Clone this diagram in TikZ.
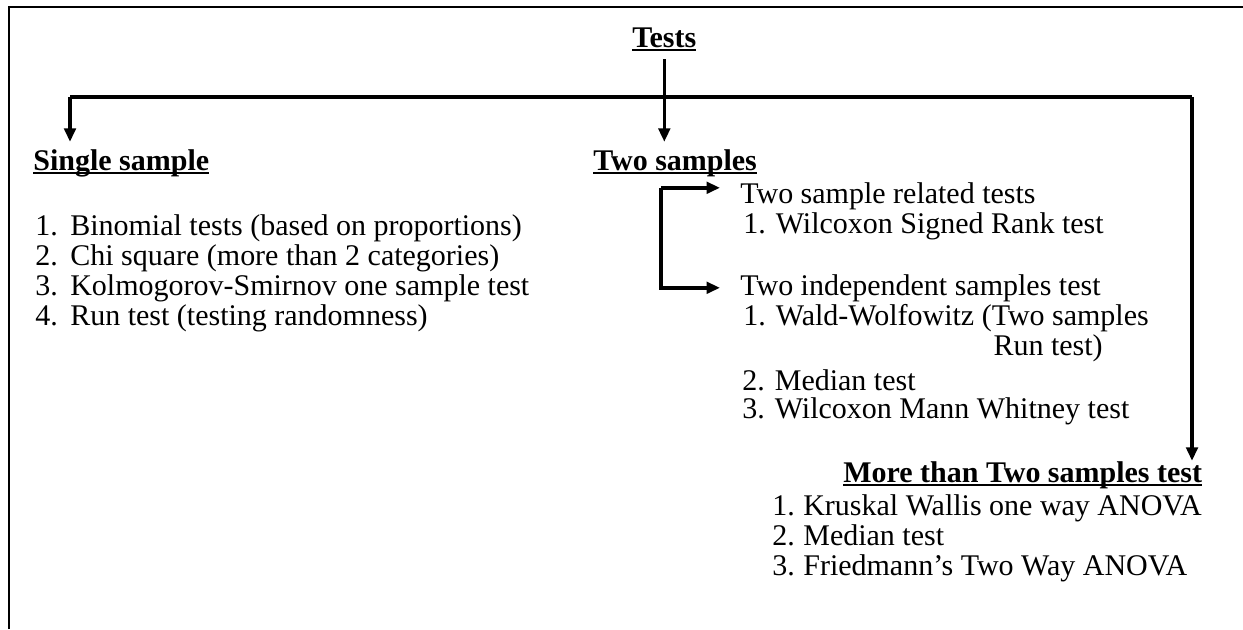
\documentclass[tikz,border=0pt]{standalone}
\usepackage{fontspec}
\setmainfont{Liberation Serif}
\usepackage{tikz}
\usetikzlibrary{arrows.meta, positioning, calc}
\newcommand{\tnr}{\fontsize{17.07pt}{17.07pt}\selectfont}
\newcommand{\ulhead}[1]{\setbox0\hbox{\bfseries #1}\rlap{\rule[-0.13em]{\wd0}{0.065em}}\box0}
\newcommand{\itemno}[2][0.7cm]{\makebox[#1][l]{#2}}

\begin{document}
\begin{tikzpicture}[x=0.02cm, y=-0.02cm, every node/.style={font=\tnr, inner sep=0pt}]
  \tikzstyle{heading}=[anchor=base west]
  \tikzstyle{entry}=[anchor=base west]
  \tikzstyle{link}=[line width=0.07cm, draw=black]
  \tikzstyle{arrow}=[link, -{Triangle[length=0.27cm, width=0.23cm]}]
  \tikzstyle{frame}=[line width=0.055cm]

  \useasboundingbox (0,0) rectangle (1243,629);
  \draw[frame] (9,629) -- (9,7) -- (1243,7);

  % headings
  \node[heading] (tests) at (632,47) {\ulhead{Tests}};
  \node[heading] (single) at (33,170) {\ulhead{Single sample}};
  \node[heading] (two) at (593,170) {\ulhead{Two samples}};
  \node[heading] (more) at (843,482) {\ulhead{More than Two samples test}};

  % single sample tests
  \node[entry] (s1) at (35,235) {\itemno{1.}Binomial tests (based on proportions)};
  \node[entry] (s2) at (35,265) {\itemno{2.}Chi square (more than 2 categories)};
  \node[entry] (s3) at (35,295) {\itemno{3.}Kolmogorov-Smirnov one sample test};
  \node[entry] (s4) at (35,325) {\itemno{4.}Run test (testing randomness)};

  % two sample tests
  \node[entry] (rel) at (740,203) {Two sample related tests};
  \node[entry] (r1) at (743,233) {1. Wilcoxon Signed Rank test};
  \node[entry] (ind) at (740,295) {Two independent samples test};
  \node[entry] (i1) at (743,325) {1. Wald-Wolfowitz (Two samples};
  \node[anchor=base east] (i1b) at (1103,355) {Run test)};
  \node[entry] (i2) at (742,390) {2. Median test};
  \node[entry] (i3) at (742,418) {3. Wilcoxon Mann Whitney test};

  % more than two samples
  \node[entry] (m1) at (772,515) {\itemno[0.62cm]{1.}Kruskal Wallis one way ANOVA};
  \node[entry] (m2) at (772,545) {\itemno[0.62cm]{2.}Median test};
  \node[entry] (m3) at (772,575) {\itemno[0.62cm]{3.}Friedmann's Two Way ANOVA};

  % connectors
  \coordinate (barL) at (70,97);
  \coordinate (barR) at (1192,97);
  \draw[link] (barL) -- (barR);
  \draw[arrow, shorten >=0.14cm] (barL) -- (barL |- single.north);
  \draw[arrow, shorten <=0.16cm, shorten >=0.14cm] (tests.south) -- (tests.south |- two.north);
  \draw[arrow] (barR) -- (barR |- more.north);

  \coordinate (forkT) at ($(rel.west)+(-79,-8)$);
  \coordinate (forkB) at ($(ind.west)+(-79,0)$);
  \draw[arrow, shorten >=0.4cm] (forkT) -- (forkT -| rel.west);
  \draw[arrow, shorten >=0.4cm] (forkT) -- (forkB) -- (ind.west);
\end{tikzpicture}
\end{document}
